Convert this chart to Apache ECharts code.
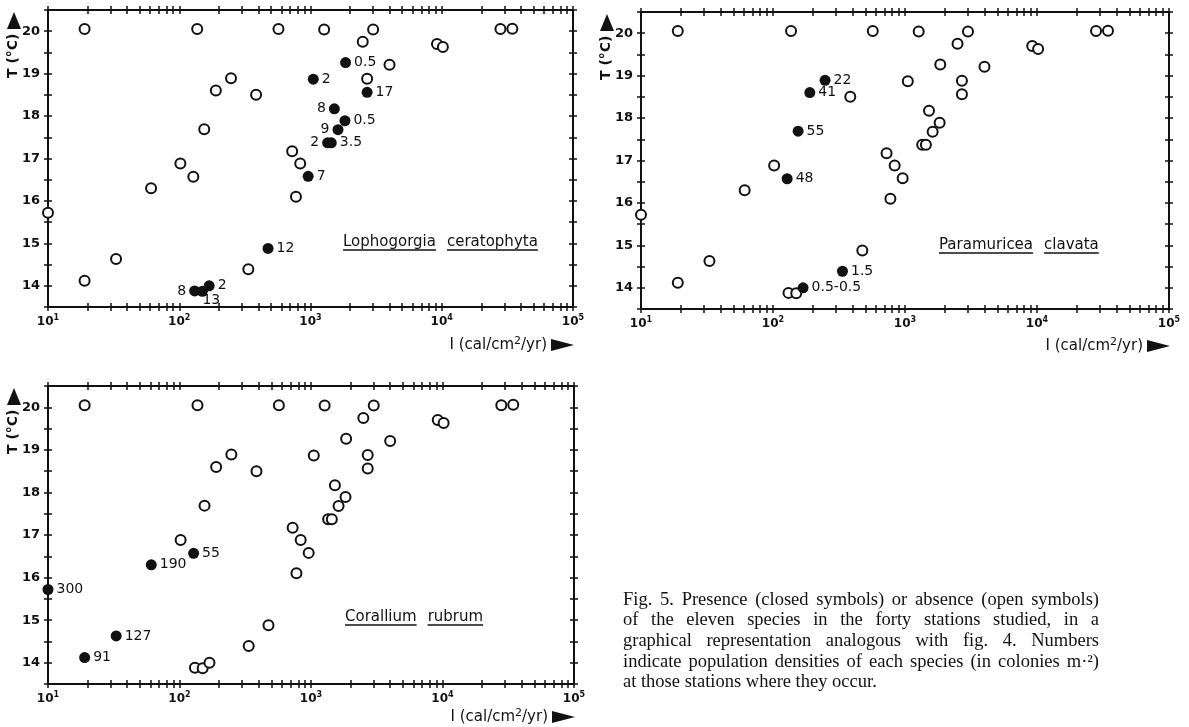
<!DOCTYPE html>
<html>
<head>
<meta charset="utf-8">
<script src="https://cdn.jsdelivr.net/npm/echarts@6/dist/echarts.min.js"></script>
<style>
  html, body { margin: 0; padding: 0; background: #fff; }
  #chart { width: 1189px; height: 727px; }
</style>
</head>
<body>
<div id="chart"></div>
<script>
// Light intensity I (cal/cm²/yr) and temperature T (°C) of the forty stations
const stationI = [10, 19, 19, 33, 61, 102, 128, 137, 155, 131, 150, 169, 190, 248, 336, 385, 475, 570,
  725, 835, 775, 960, 1050, 1270, 1350, 1440, 1520, 1620, 1830, 1850, 2500, 2700, 2700, 3000, 4000,
  9200, 10200, 28000, 34500];
const stationT = [15.72, 14.12, 20.05, 14.63, 16.3, 16.88, 16.57, 20.05, 17.69, 13.88, 13.87, 14.0, 18.6,
  18.89, 14.39, 18.5, 14.88, 20.05, 17.17, 16.88, 16.1, 16.58, 18.87, 20.04, 17.37, 17.37, 18.17, 17.68,
  17.89, 19.26, 19.75, 18.88, 18.56, 20.04, 19.21, 19.7, 19.63, 20.05, 20.06];

// Stations (index into the arrays above) where each species occurs, with its density (colonies m-2)
const lophoStations = [9, 10, 11, 16, 21, 22, 24, 25, 26, 27, 28, 29, 32];
const lophoDensity = ['8', '13', '2', '12', '7', '2', '2', '3.5', '8', '9', '0.5', '0.5', '17'];
const paraStations = [13, 12, 8, 6, 14, 11];
const paraDensity = ['22', '41', '55', '48', '1.5', '0.5-0.5'];
const coralStations = [0, 1, 3, 4, 6];
const coralDensity = ['300', '91', '127', '190', '55'];

const speciesNames = [['Lophogorgia', 'ceratophyta'], ['Paramuricea', 'clavata'], ['Corallium', 'rubrum']];
const xDecades = [10, 100, 1000, 10000, 100000];
const yTempTicks = [13.5, 20.5, 0.5]; // min, max, step

const captionLines = [
  'Fig. 5. Presence (closed symbols) or absence (open symbols)',
  'of the eleven species in the forty stations studied, in a',
  'graphical representation analogous with fig. 4. Numbers',
  'indicate population densities of each species (in colonies m\u00b7\u00b2)',
  'at those stations where they occur.'
];

// ---- layout and styling ----
const INK = '#111111';
const SANS = '"DejaVu Sans", sans-serif';
const SERIF = '"Liberation Serif", serif';

const panels = [
  { grid: { left: 48, top: 10, width: 525, height: 297 }, stations: lophoStations, dens: lophoDensity,
    sides: ['left', 'bottom', 'right', 'right', 'right', 'right', 'left', 'right', 'left', 'left', 'right', 'right', 'right'],
    title: [343, 242], xNameGap: 38 },
  { grid: { left: 641, top: 12, width: 528, height: 297 }, stations: paraStations, dens: paraDensity,
    sides: ['right', 'right', 'right', 'right', 'right', 'right'],
    title: [939, 245], xNameGap: 37 },
  { grid: { left: 48, top: 386, width: 526, height: 298 }, stations: coralStations, dens: coralDensity,
    sides: ['right', 'right', 'right', 'right', 'right'],
    title: [345, 617], xNameGap: 33 }
];

// tick positions along the log axis: 1..9 within each decade
const xTickVals = [];
for (let d = 0; d < xDecades.length - 1; d++) {
  for (let k = 1; k <= 9; k++) xTickVals.push(xDecades[d] * k);
}
xTickVals.push(xDecades[xDecades.length - 1]);

const ctx = document.createElement('canvas').getContext('2d');
function textWidth(s, font) { ctx.font = font; return ctx.measureText(s).width; }

const grids = [], xAxes = [], yAxes = [], series = [], graphics = [];

panels.forEach((p, gi) => {
  grids.push(Object.assign({ show: true, borderColor: INK, borderWidth: 2, backgroundColor: 'transparent' }, p.grid));

  // four x axes per panel: bottom/top, ticks outside/inside, so ticks cross the frame
  [['bottom', false, true], ['bottom', true, false], ['top', false, false], ['top', true, false]].forEach(([pos, inside, labels]) => {
    xAxes.push({
      type: 'log', logBase: 10, min: xDecades[0], max: xDecades[xDecades.length - 1],
      gridIndex: gi, position: pos,
      axisLine: { show: false },
      splitLine: { show: false },
      axisTick: { show: true, inside: inside, length: 4, customValues: xTickVals, lineStyle: { color: INK, width: 1.5 } },
      axisLabel: {
        show: labels, margin: 7, customValues: xDecades,
        formatter: v => '{b|10}{s|' + Math.round(Math.log10(v)) + '}',
        rich: {
          b: { fontFamily: SANS, fontSize: 12, fontWeight: 'bold', color: INK },
          s: { fontFamily: SANS, fontSize: 8, fontWeight: 'bold', color: INK, padding: [0, 0, 7, 0] }
        }
      }
    });
  });
  [['left', false, true], ['left', true, false], ['right', false, false], ['right', true, false]].forEach(([pos, inside, labels]) => {
    yAxes.push({
      type: 'value', min: yTempTicks[0], max: yTempTicks[1], interval: yTempTicks[2],
      gridIndex: gi, position: pos,
      axisLine: { show: false },
      splitLine: { show: false },
      axisTick: { show: true, inside: inside, length: 4, lineStyle: { color: INK, width: 1.5 } },
      axisLabel: {
        show: labels, margin: 8, color: INK, fontFamily: SANS, fontSize: 13, fontWeight: 'bold',
        formatter: v => (Number.isInteger(v) ? String(v) : '')
      }
    });
  });

  const present = new Set(p.stations);
  const openData = [];
  stationI.forEach((x, i) => { if (!present.has(i)) openData.push([x, stationT[i]]); });
  const closedData = p.stations.map((si, k) => {
    const side = p.sides[k];
    const lbl = { show: true, position: side, distance: 3 };
    if (side === 'bottom') { lbl.distance = 0; lbl.offset = [9, -3]; }
    return { value: [stationI[si], stationT[si]], name: p.dens[k], label: lbl };
  });

  series.push({
    type: 'scatter', xAxisIndex: gi * 4, yAxisIndex: gi * 4, clip: false,
    symbol: 'emptyCircle', symbolSize: 10,
    itemStyle: { color: INK, borderColor: INK, borderWidth: 2, opacity: 1 },
    emphasis: { disabled: true },
    data: openData, z: 3
  });
  series.push({
    type: 'scatter', xAxisIndex: gi * 4, yAxisIndex: gi * 4, clip: false,
    symbol: 'circle', symbolSize: 11,
    itemStyle: { color: INK, opacity: 1 },
    emphasis: { disabled: true },
    label: { formatter: '{b}', color: INK, opacity: 1, fontFamily: SANS, fontSize: 14 },
    data: closedData, z: 4
  });

  const g = p.grid;
  const right = g.left + g.width, bottom = g.top + g.height;

  // y axis name with an upward arrow head
  graphics.push({
    type: 'text', x: g.left - 35, y: g.top + 68, rotation: Math.PI / 2,
    style: { text: 'T (°C)', font: 'bold 14px ' + SANS, fill: INK, align: 'left', verticalAlign: 'middle', textAlign: 'left', textVerticalAlign: 'middle' }
  });
  graphics.push({
    type: 'polygon',
    shape: { points: [[g.left - 34, g.top + 2], [g.left - 41, g.top + 19], [g.left - 27, g.top + 19]] },
    style: { fill: INK }
  });

  // x axis name with a right-pointing arrow head
  const ny = bottom + p.xNameGap;
  graphics.push({
    type: 'text', x: right - 26, y: ny,
    style: {
      text: '{t|I (cal/cm}{s|2}{t|/yr)}', align: 'right', verticalAlign: 'middle', textAlign: 'right', textVerticalAlign: 'middle',
      rich: {
        t: { fontFamily: SANS, fontSize: 15, fill: INK, color: INK },
        s: { fontFamily: SANS, fontSize: 11, fill: INK, color: INK, padding: [0, 0, 7, 0] }
      }
    }
  });
  graphics.push({
    type: 'polygon',
    shape: { points: [[right - 22, ny - 6], [right + 1, ny], [right - 22, ny + 6]] },
    style: { fill: INK }
  });

  // species name, each word underlined
  const tfont = '15px ' + SANS;
  let tx = p.title[0];
  speciesNames[gi].forEach(w => {
    const ww = textWidth(w, tfont);
    graphics.push({ type: 'text', x: tx, y: p.title[1], style: { text: w, font: tfont, fill: INK, align: 'left', verticalAlign: 'middle', textAlign: 'left', textVerticalAlign: 'middle' } });
    graphics.push({ type: 'line', shape: { x1: tx, y1: p.title[1] + 8, x2: tx + ww, y2: p.title[1] + 8 }, style: { stroke: INK, lineWidth: 1.4 } });
    tx += ww + 11;
  });
});

// caption, justified like a printed paragraph
const capFont = '18.5px ' + SERIF;
const capLeft = 623, capWidth = 476, capTop = 600, capLead = 20.6;
captionLines.forEach((line, li) => {
  const y = capTop + li * capLead;
  const words = line.split(' ');
  const last = li === captionLines.length - 1;
  const widths = words.map(w => textWidth(w, capFont));
  const sum = widths.reduce((a, b) => a + b, 0);
  const gap = last ? textWidth(' ', capFont) : (capWidth - sum) / (words.length - 1);
  let x = capLeft;
  words.forEach((w, k) => {
    graphics.push({ type: 'text', x: x, y: y, style: { text: w, font: capFont, fill: INK, align: 'left', verticalAlign: 'middle', textAlign: 'left', textVerticalAlign: 'middle' } });
    x += widths[k] + gap;
  });
});

const chart = echarts.init(document.getElementById('chart'), null, { renderer: 'canvas' });
chart.setOption({
  backgroundColor: '#fff',
  animation: false,
  grid: grids,
  xAxis: xAxes,
  yAxis: yAxes,
  series: series,
  graphic: graphics
});
</script>
</body>
</html>
